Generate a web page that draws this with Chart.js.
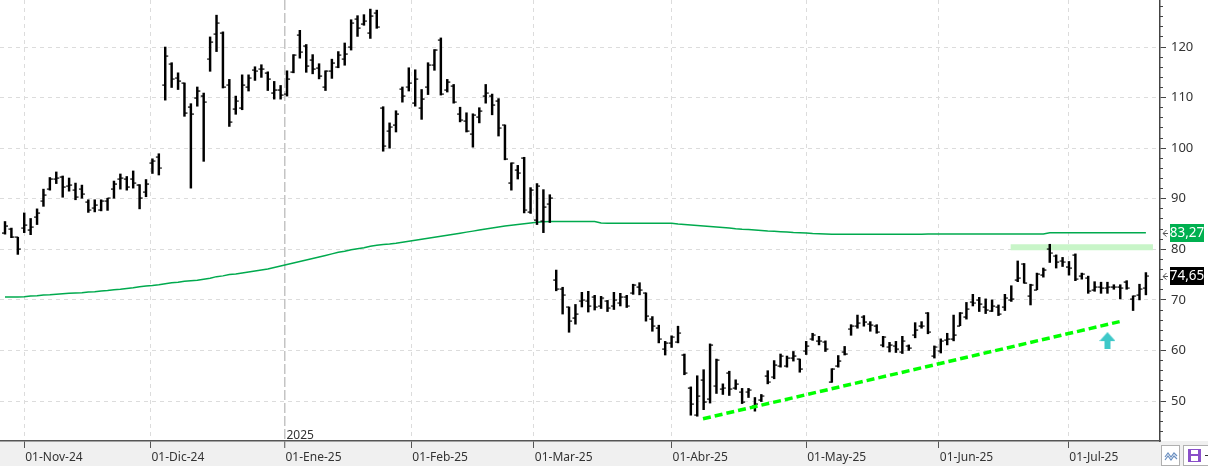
<!DOCTYPE html>
<html><head><meta charset="utf-8">
<script src="https://cdn.jsdelivr.net/npm/chart.js@4.4.1/dist/chart.umd.min.js"></script>
<style>html,body{margin:0;padding:0;background:#fff;overflow:hidden}#wrap{width:1208px;height:466px;position:relative}</style>
</head><body><div id="wrap"><canvas id="c" width="1208" height="466"></canvas></div>
<script>
// ---- data ----
const openP = [83.3,84.0,82.4,84.2,83.9,86.4,89.5,91.9,93.9,94.4,
92.5,91.7,91.9,89.4,88.1,87.7,89.5,92.0,93.9,93.9,
94.0,92.8,91.3,97.0,98.2,112.5,116.6,113.8,112.9,108.2,
110.0,110.4,117.6,122.6,122.8,112.4,107.8,108.0,112.1,115.4,
115.6,114.9,111.0,111.6,110.7,115.1,122.4,120.3,117.5,115.9,
112.1,115.3,116.0,117.6,120.0,125.5,124.6,122.8,126.7,108.0,
103.4,104.6,111.7,112.0,109.0,108.0,112.1,116.4,121.4,111.6,
112.3,106.8,105.4,102.8,106.2,110.3,110.4,109.4,104.5,93.2,
95.7,98.1,87.4,85.8,85.6,88.9,74.0,72.1,68.5,66.5,
69.7,69.7,70.5,68.8,69.7,68.7,69.3,70.5,71.3,72.6,
71.3,66.2,64.5,60.3,61.5,61.6,59.2,52.6,47.2,54.2,
50.4,52.9,52.4,55.6,52.6,51.8,51.7,49.1,50.3,55.0,
54.7,56.9,56.9,58.5,58.3,59.8,62.2,61.9,61.6,53.8,
57.0,59.6,64.2,64.8,66.6,65.2,64.9,61.1,60.6,60.8,
59.6,60.8,63.0,64.9,67.4,58.9,59.8,62.1,62.3,64.9,
66.7,69.5,70.0,68.6,67.9,68.6,68.6,69.9,74.0,77.0,
70.8,72.0,75.0,80.0,78.6,77.6,76.6,78.9,74.7,74.3,
72.0,72.5,72.3,72.6,72.6,73.6,70.2,71.0,72.3];
const highP = [85.5,84.2,82.4,87.2,86.1,88.0,91.9,94.2,95.3,94.5,
94.1,93.1,92.7,89.8,89.8,89.8,90.1,93.5,94.9,94.4,
95.5,92.8,93.8,97.9,98.9,120.0,116.9,114.9,112.9,108.8,
112.1,110.9,122.0,126.3,123.0,113.6,110.3,114.5,114.5,116.1,
116.5,115.1,113.2,112.4,115.3,118.5,123.3,120.5,118.5,116.7,
115.3,117.6,119.1,120.8,125.4,126.2,126.4,127.5,127.3,108.2,
105.0,107.4,112.1,115.9,115.5,111.6,116.9,119.5,121.8,113.6,
112.6,108.1,107.0,106.8,108.0,112.6,110.7,109.8,104.6,97.1,
96.6,98.2,92.2,93.0,91.8,90.8,75.9,72.5,68.6,69.1,
71.5,71.7,70.9,70.7,69.9,71.5,71.3,70.9,73.1,73.4,
71.4,66.7,65.0,61.8,62.9,64.8,59.3,52.8,55.0,56.2,
61.3,58.3,53.4,55.9,54.2,52.5,52.5,50.7,51.3,56.0,
58.0,59.3,58.9,59.8,58.3,61.8,63.4,62.8,61.9,56.4,
59.0,60.8,65.1,67.0,66.9,65.7,65.1,62.8,61.6,61.8,
62.8,61.1,65.5,65.7,67.5,60.9,62.3,63.4,67.0,67.5,
69.5,71.1,70.5,70.2,70.0,69.0,71.1,72.8,77.7,77.2,
73.1,75.3,76.3,81.0,78.9,78.4,77.6,79.1,75.3,74.7,
73.6,73.5,73.5,73.0,73.0,73.8,70.8,73.1,75.4];
const lowP = [83.0,82.3,79.0,83.3,82.9,84.9,88.5,91.7,93.0,90.3,
91.5,89.8,90.1,87.3,87.4,87.6,87.7,90.1,91.9,91.7,
92.1,88.0,90.4,95.0,94.7,109.5,112.0,111.6,106.3,92.1,
108.3,97.4,115.2,119.1,111.9,104.3,106.7,107.6,111.3,113.4,
114.0,111.4,109.7,109.7,110.3,114.9,117.8,115.0,114.7,113.7,
111.4,113.8,115.9,116.4,119.4,122.1,124.3,121.7,123.7,99.4,
100.0,103.2,109.1,111.3,108.3,105.7,110.6,115.4,110.5,111.1,
108.9,105.2,103.2,100.2,105.0,108.9,106.6,102.4,97.7,91.7,
93.9,87.2,87.1,84.9,83.3,85.3,71.8,67.2,63.6,65.2,
68.6,67.6,68.0,68.3,67.7,68.1,68.8,68.5,71.1,71.0,
65.8,63.8,61.5,59.1,60.6,61.5,55.2,47.2,47.0,48.3,
49.6,51.5,51.3,51.1,52.3,49.5,50.7,48.0,49.9,53.4,
54.4,56.7,56.7,57.9,55.7,59.2,62.0,61.1,59.8,53.7,
56.7,59.1,63.0,64.4,64.8,63.8,63.4,60.7,59.7,59.6,
59.4,60.0,62.5,64.4,63.3,58.5,59.5,61.1,61.9,64.9,
66.2,68.8,67.7,67.3,67.7,66.9,67.9,69.7,73.6,73.3,
69.0,72.0,74.5,77.4,76.3,76.6,74.9,73.8,74.1,71.3,
71.7,71.3,71.3,72.1,70.2,72.1,67.9,70.0,71.0];
const closeP = [84.7,82.5,80.1,84.8,84.4,87.2,90.7,94.0,94.1,92.4,
92.7,90.3,90.9,87.7,88.8,89.5,90.1,93.0,94.1,92.4,
93.1,90.2,93.0,97.4,96.0,118.2,113.6,113.3,107.0,106.8,
111.4,109.1,121.0,124.7,112.1,105.2,109.3,112.5,113.8,115.2,
115.7,113.7,111.6,110.5,113.7,118.4,119.0,116.3,115.7,114.3,
115.3,116.9,118.4,118.7,124.7,123.8,125.1,126.2,123.9,100.4,
104.1,106.8,110.3,112.9,113.7,109.8,116.4,119.5,110.7,113.1,
109.1,105.5,103.4,106.6,107.4,110.9,108.6,103.9,97.8,97.0,
95.0,87.7,91.8,92.5,88.4,90.2,72.1,70.9,65.8,67.2,
69.9,68.8,68.5,70.3,68.3,69.9,70.5,68.7,72.9,71.9,
66.8,64.8,62.2,61.5,62.6,63.4,55.5,49.4,51.0,49.9,
61.1,58.1,52.5,52.3,53.4,49.8,52.1,49.5,50.9,53.7,
57.2,58.9,58.5,59.0,56.4,60.9,63.0,61.8,60.3,56.4,
58.0,59.4,64.8,65.4,65.7,65.0,63.7,62.6,61.1,60.3,
61.8,60.5,64.1,64.8,63.6,60.6,61.8,62.3,63.1,67.4,
68.2,69.3,69.2,68.1,68.8,67.2,70.3,70.2,74.3,73.4,
73.0,75.1,76.0,79.2,77.5,77.4,76.3,74.1,75.1,71.7,
72.5,72.4,72.6,72.5,72.3,72.3,70.7,72.1,74.65];
const smaLine = [70.55,70.55,70.55,70.6,70.75,70.8,70.95,71.0,71.1,71.2,
71.3,71.35,71.4,71.55,71.6,71.75,71.85,72.0,72.1,72.25,
72.4,72.6,72.75,72.85,73.0,73.2,73.4,73.5,73.7,73.8,
73.9,74.1,74.3,74.6,74.75,75.0,75.1,75.3,75.5,75.7,
75.9,76.1,76.4,76.7,77.0,77.3,77.6,77.9,78.2,78.5,
78.8,79.1,79.4,79.6,79.9,80.1,80.3,80.6,80.8,80.95,
81.05,81.2,81.4,81.6,81.8,82.0,82.2,82.4,82.6,82.8,
83.0,83.2,83.4,83.6,83.8,84.0,84.2,84.4,84.6,84.75,
84.9,85.05,85.2,85.35,85.45,85.5,85.5,85.5,85.5,85.5,
85.5,85.5,85.5,85.2,85.15,85.15,85.15,85.15,85.15,85.15,
85.15,85.15,85.15,85.15,85.15,85.0,84.9,84.8,84.7,84.6,
84.5,84.4,84.3,84.2,84.05,83.95,83.9,83.8,83.7,83.6,
83.55,83.5,83.45,83.35,83.3,83.25,83.15,83.1,83.05,83.0,
83.0,83.0,83.0,83.0,83.0,83.0,83.0,83.0,83.0,83.0,
83.0,83.0,83.0,83.0,83.05,83.05,83.05,83.05,83.05,83.05,
83.05,83.05,83.05,83.05,83.05,83.05,83.05,83.05,83.05,83.05,
83.05,83.05,83.05,83.27,83.27,83.27,83.27,83.27,83.27,83.27,
83.27,83.27,83.27,83.27,83.27,83.27,83.27,83.27,83.27];
const monthTickPos = [3, 22.7, 43.6, 63.4, 82.5, 104, 125, 145.7, 165.9];
const monthTickLabels = ['01-Nov-24','01-Dic-24','01-Ene-25','01-Feb-25','01-Mar-25','01-Abr-25','01-May-25','01-Jun-25','01-Jul-25'];
const yearLabel = '2025';
const yearTickPos = 43.6;
const yMajorTicks = [50,60,70,80,90,100,110,120,130];
const yMinorTicks = [44,46,48,52,54,56,58,62,64,66,68,72,74,76,78,82,84,86,88,92,94,96,98,102,104,106,108,112,114,116,118,122,124,126,128];
const trendX = [108.9, 173.9];
const trendY = [46.5, 65.7];
const zoneX = [156.9, 179.1];
const zoneY = [80.4, 80.4];
const arrowX = [172];
const arrowY = [61.95];

// ---- marker images ----
function tickImg(left){const c=document.createElement('canvas');c.width=10;c.height=2;const g=c.getContext('2d');g.fillStyle='#000';if(left)g.fillRect(2,0.5,3,1.2);else g.fillRect(5,0.5,3,1.2);return c;}
const imgOpen = tickImg(true), imgClose = tickImg(false);
const arrowImg = (function(){const c=document.createElement('canvas');c.width=16;c.height=17;const g=c.getContext('2d');g.fillStyle='#3ec8c8';g.beginPath();g.moveTo(8,0);g.lineTo(16,9);g.lineTo(11,9);g.lineTo(11,17);g.lineTo(5,17);g.lineTo(5,9);g.lineTo(0,9);g.closePath();g.fill();return c;})();

const FONT = '"Noto Sans", "Open Sans", sans-serif';

const decor = {
  id:'decor',
  beforeDraw(chart){
    const {ctx, chartArea:a, width, height} = chart;
    ctx.save();
    ctx.fillStyle='#fff'; ctx.fillRect(0,0,width,height);
    ctx.fillStyle='#f0f0f0'; ctx.fillRect(0,a.bottom,width,height-a.bottom);
    ctx.restore();
  },
  afterDraw(chart){
    const {ctx, chartArea:a} = chart;
    const xs = chart.scales.x, ys = chart.scales.y;
    ctx.save();
    // partially visible top label
    ctx.fillStyle='#333'; ctx.font='13px '+FONT; ctx.textAlign='left'; ctx.textBaseline='middle';
    ctx.fillText(String(yMajorTicks[yMajorTicks.length-1]), ys.left+11, ys.getPixelForValue(yMajorTicks[yMajorTicks.length-1]));
    // year label
    ctx.font='12px '+FONT; ctx.textBaseline='alphabetic';
    ctx.fillText(yearLabel, xs.getPixelForValue(yearTickPos)+2, a.bottom-2);
    // value badges
    function badge(val,bg){
      const y = Math.round(ys.getPixelForValue(val));
      const x0 = ys.left + 10;
      ctx.fillStyle=bg; ctx.fillRect(x0, y-9, 34, 18);
      ctx.fillStyle='#fff'; ctx.font='13.5px '+FONT; ctx.textAlign='center'; ctx.textBaseline='middle';
      ctx.fillText(val.toFixed(2).replace('.',','), x0+17, y+0.5);
      ctx.strokeStyle='#555'; ctx.lineWidth=1; ctx.beginPath();
      ctx.moveTo(ys.left+6.5,y-3); ctx.lineTo(ys.left+3,y+0.5); ctx.lineTo(ys.left+6.5,y+3.5);
      ctx.moveTo(ys.left+3,y+0.5); ctx.lineTo(ys.left+8,y+0.5); ctx.stroke();
    }
    badge(smaLine[smaLine.length-1], '#00b050');
    badge(closeP[closeP.length-1], '#000');
    // bottom-right buttons
    const bx = ys.left;
    ctx.strokeStyle='#b0b0b0'; ctx.lineWidth=1; ctx.fillStyle='#fff';
    ctx.fillRect(bx+1.5, a.bottom+4.5, 18, 20); ctx.strokeRect(bx+1.5, a.bottom+4.5, 18, 20);
    ctx.fillRect(bx+23.5, a.bottom+4.5, 30, 20); ctx.strokeRect(bx+23.5, a.bottom+4.5, 30, 20);
    ctx.strokeStyle='#6a8fc0'; ctx.lineWidth=1.2; ctx.beginPath();
    ctx.moveTo(bx+5,a.bottom+16); ctx.lineTo(bx+8,a.bottom+12); ctx.lineTo(bx+11,a.bottom+16); ctx.lineTo(bx+14,a.bottom+12); ctx.lineTo(bx+17,a.bottom+15);
    ctx.moveTo(bx+5,a.bottom+19); ctx.lineTo(bx+8,a.bottom+15); ctx.lineTo(bx+11,a.bottom+19); ctx.lineTo(bx+14,a.bottom+15); ctx.lineTo(bx+17,a.bottom+18);
    ctx.stroke();
    ctx.fillStyle='#8a4fc9'; ctx.fillRect(bx+28, a.bottom+8, 13, 13);
    ctx.fillStyle='#fff'; ctx.fillRect(bx+31, a.bottom+9, 7, 4); ctx.fillRect(bx+31, a.bottom+15, 7, 5);
    ctx.fillStyle='#333'; ctx.fillRect(bx+45, a.bottom+14, 4, 1);
    ctx.restore();
  }
};

new Chart(document.getElementById('c'), {
  type:'line',
  data:{ datasets:[
    {type:'line', data: zoneX.map((x,i)=>({x, y:zoneY[i]})), borderColor:'#c8f5c8', borderWidth:6, borderCapStyle:'butt', pointRadius:0, order:10, xAxisID:'x', yAxisID:'y'},
    {type:'line', data: smaLine.map((y,i)=>({x:i, y})), borderColor:'#00aa4e', borderWidth:1.5, pointRadius:0, tension:0, order:9, xAxisID:'x', yAxisID:'y'},
    {type:'bar', data: highP.map((h,i)=>({x:i, y:[lowP[i], h]})), backgroundColor:'#000', borderWidth:0, barThickness:1.8, grouped:false, order:5, xAxisID:'x', yAxisID:'y'},
    {type:'scatter', data: openP.map((y,i)=>({x:i, y})), pointStyle: imgOpen, pointRadius:5, order:4, xAxisID:'x', yAxisID:'y'},
    {type:'scatter', data: closeP.map((y,i)=>({x:i, y})), pointStyle: imgClose, pointRadius:5, order:4, xAxisID:'x', yAxisID:'y'},
    {type:'line', data: trendX.map((x,i)=>({x, y:trendY[i]})), borderColor:'#00ff00', borderWidth:3.5, borderDash:[8,4], borderCapStyle:'butt', pointRadius:0, order:2, xAxisID:'x', yAxisID:'y'},
    {type:'scatter', data: arrowX.map((x,i)=>({x, y:arrowY[i]})), pointStyle: arrowImg, pointRadius:8, order:1, xAxisID:'x', yAxisID:'y'}
  ]},
  options:{
    responsive:false, animation:false, devicePixelRatio:1, events:[],
    layout:{padding:0, autoPadding:false},
    plugins:{legend:{display:false}, tooltip:{enabled:false}},
    scales:{
      y:{
        type:'linear', position:'right', weight:1, min:42.1, max:129.3, beginAtZero:false,
        afterBuildTicks(s){ s.ticks = yMajorTicks.map(v=>({value:v})); },
        afterFit(s){ s.width = 48; s.paddingTop=0; s.paddingBottom=0; },
        ticks:{ autoSkip:false, padding:5, color:'#333', font:{family:FONT, size:13}, callback:v=>String(v) },
        grid:{ color:'#dcdcdc', lineWidth:1, tickLength:6, tickColor:'#444', tickWidth:1 },
        border:{ color:'#444', width:1.5, dash:[4,4] }
      },
      yMinor:{
        type:'linear', position:'right', weight:0, min:42.1, max:129.3,
        afterBuildTicks(s){ s.ticks = yMinorTicks.map(v=>({value:v})); },
        afterFit(s){ s.width = 0; s.paddingTop=0; s.paddingBottom=0; },
        ticks:{ display:false },
        grid:{ drawOnChartArea:false, tickLength:3, tickColor:'#444', tickWidth:1 },
        border:{ display:false }
      },
      x:{
        type:'linear', position:'bottom', min:-0.78, max:180.2, offset:false,
        afterBuildTicks(s){ s.ticks = monthTickPos.map(v=>({value:v})); },
        afterFit(s){ s.height = 25; s.paddingLeft=0; s.paddingRight=0; },
        ticks:{ autoSkip:false, maxRotation:0, minRotation:0, align:'start', padding:2, labelOffset:1, color:'#333', font:{family:FONT, size:12},
          callback:(v)=>{ const k = monthTickPos.indexOf(v); return k>=0 ? monthTickLabels[k] : ''; } },
        grid:{ offset:false, tickLength:7, tickColor:'#555', tickWidth:1,
          color:(c)=> (c.tick && c.tick.value===yearTickPos) ? '#c4c4c4' : '#dcdcdc',
          lineWidth:(c)=> (c.tick && c.tick.value===yearTickPos) ? 1.5 : 1 },
        border:{ color:'#555', width:1.5, dash:(c)=> (c.tick && c.tick.value===yearTickPos) ? [10,3] : [4,4] }
      }
    }
  },
  plugins:[decor]
});
</script>
</body></html>
